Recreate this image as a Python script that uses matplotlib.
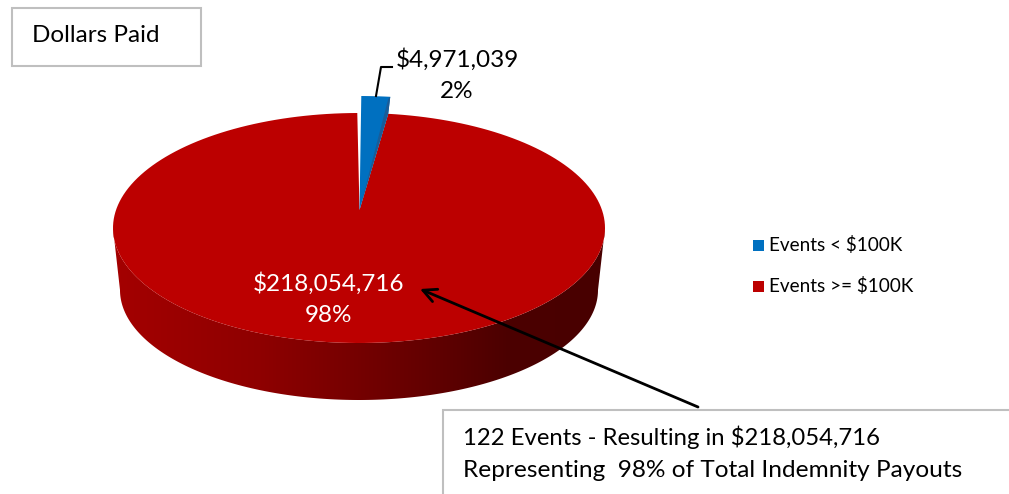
import numpy as np
import matplotlib
matplotlib.use("Agg")
import matplotlib.pyplot as plt
from matplotlib.patches import Polygon, Rectangle
from matplotlib.colors import LinearSegmentedColormap

plt.rcParams['font.family'] = ['Lato', 'DejaVu Sans']

categories = ["Events < $100K", "Events >= $100K"]
dollars = [4971039, 218054716]
colors = ["#0070C0", "#BC0000"]
title = "Dollars Paid"
note_lines = ["122 Events - Resulting in $218,054,716",
              "Representing  98% of Total Indemnity Payouts"]

total = sum(dollars)
labels = ["${:,}\n{:.0f}%".format(v, v / total * 100) for v in dollars]

# axes in image pixels, y going down
fig = plt.figure(figsize=(1009 / 100, 494 / 100), dpi=100)
ax = fig.add_axes([0, 0, 1, 1])
ax.set_xlim(0, 1009)
ax.set_ylim(494, 0)
ax.axis("off")

# pie shape
cx, cy, rx, ry = 359, 228, 246, 115
apex = (359.5, 210)
low_cy, low_rx, low_ry = 290, 239, 110
lift = 17


def arc(t0, t1, x0=cx, y0=cy, a=rx, b=ry):
    t = np.radians(np.linspace(t0, t1, 200))
    return np.column_stack([x0 + a * np.sin(t), y0 - b * np.cos(t)])


# slice angle, squeezed a little as the 3d view does at the back of the pie
slice_angle = dollars[0] / total * 360 * 0.85

# --- side wall ---
wall_pts = np.vstack([arc(90, 270, cx, low_cy, low_rx, low_ry), arc(270, 90)])
wall = Polygon(wall_pts, closed=True, facecolor="none", edgecolor="none")
ax.add_patch(wall)
cmap = LinearSegmentedColormap.from_list(
    "wall", [(0, "#A40000"), (0.3, "#8E0000"), (0.6, "#680000"), (0.8, "#4C0000"), (1, "#480000")])
grad = ax.imshow(np.linspace(0, 1, 256).reshape(1, -1), cmap=cmap, aspect="auto",
                 extent=[113, 605, 400, 228], zorder=1)
grad.set_clip_path(wall)
ax.set_xlim(0, 1009)
ax.set_ylim(494, 0)

# --- red top ---
red_arc = arc(slice_angle, 359.6)
ax.add_patch(Polygon(np.vstack([[apex], red_arc]), closed=True,
                     facecolor=colors[1], edgecolor="none", zorder=2))

# --- blue slice, pulled out ---
blue_arc = arc(0.5, slice_angle, y0=cy - lift, a=rx * 1.07)
end = blue_arc[-1]
ax.add_patch(Polygon(np.vstack([[apex], blue_arc, [red_arc[0]]]), closed=True,
                     facecolor=colors[0], edgecolor="none", zorder=3))
ax.add_patch(Polygon([apex, red_arc[0], end, (end[0] - 2, end[1] + 2)], closed=True,
                     facecolor="#1A5C98", edgecolor="none", zorder=4))

# --- leader line for small slice ---
ax.plot([376, 381, 392], [96, 67, 67], color="black", lw=1.5, zorder=5)

# --- data labels ---
ax.text(457, 75, labels[0], color="black", fontsize=17.5, ha="center", va="center",
        linespacing=1.6, zorder=6)
ax.text(329, 299, labels[1], color="white", fontsize=17.5, ha="center", va="center",
        linespacing=1.6, zorder=6)

# --- legend ---
for y, c, name in zip([245, 286], colors, categories):
    ax.add_patch(Rectangle((753, y - 5.5), 11, 11, facecolor=c, edgecolor="none"))
    ax.text(769, y, name, fontsize=13.6, ha="left", va="center", color="black")

# --- boxes ---
ax.add_patch(Rectangle((12, 8), 189, 58, facecolor="white", edgecolor="#BFBFBF", lw=1.5))
ax.text(32, 35, title, fontsize=17.5, ha="left", va="center", color="black")

ax.add_patch(Rectangle((443, 410), 600, 120, facecolor="white", edgecolor="#BFBFBF", lw=1.5, zorder=7))
ax.text(463, 437, note_lines[0], fontsize=17.2, ha="left", va="center", color="black", zorder=8)
ax.text(463, 470, note_lines[1], fontsize=17.6, ha="left", va="center", color="black", zorder=8)

# --- callout arrow ---
ax.annotate("", xy=(420, 289), xytext=(698, 407),
            arrowprops=dict(arrowstyle="->", color="black", lw=2, mutation_scale=24,
                            shrinkA=0, shrinkB=0), zorder=9)

fig.savefig("out.png", dpi=100)
